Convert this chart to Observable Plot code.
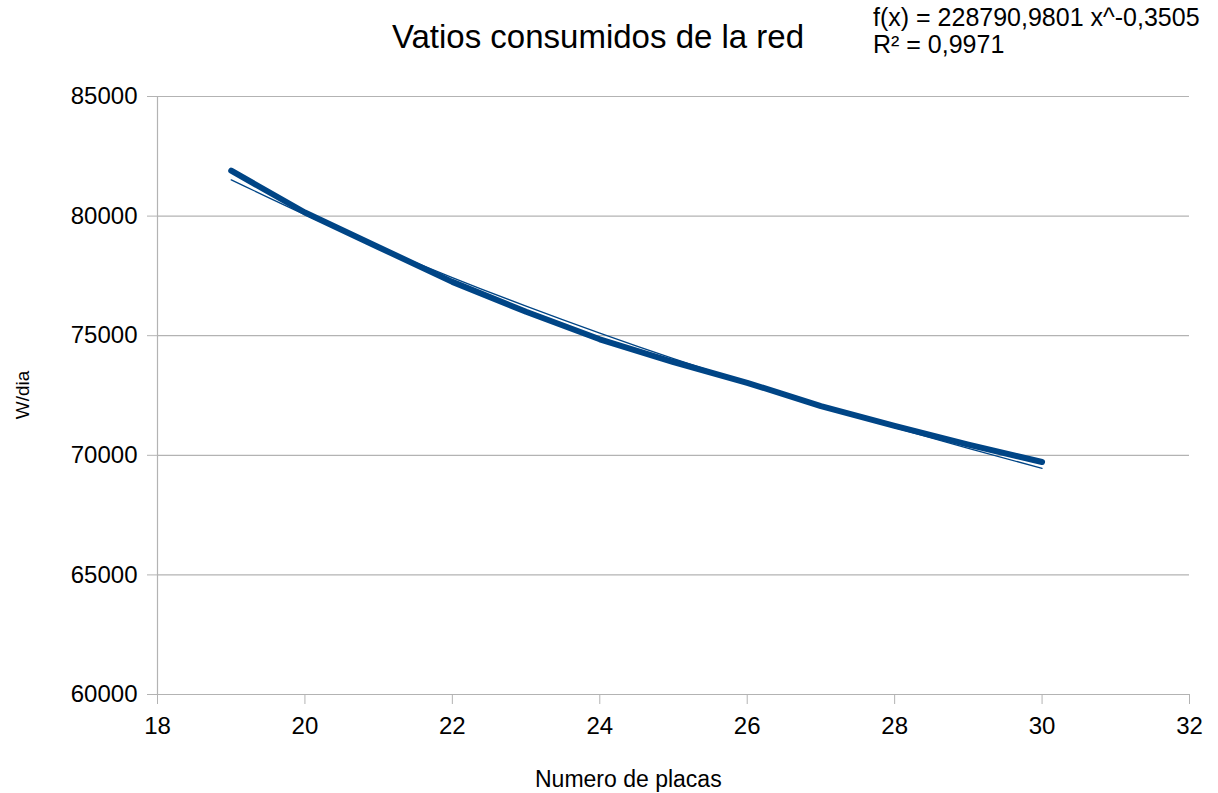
<!DOCTYPE html>
<html>
<head>
<meta charset="utf-8">
<script src="https://cdn.jsdelivr.net/npm/d3@7"></script>
<script src="https://cdn.jsdelivr.net/npm/@observablehq/plot@0.6"></script>
<style>
  html, body { margin: 0; padding: 0; background: #fff; }
  #wrap { position: relative; width: 1218px; height: 793px; font-family: "Liberation Sans", Arial, sans-serif; color: #000; }
  #wrap svg { position: absolute; left: 0; top: 0; }
  .lbl { position: absolute; white-space: nowrap; line-height: 1; }
</style>
</head>
<body>
<div id="wrap">
  <div class="lbl" id="title" style="left:598px; top:20px; transform:translateX(-50%); font-size:33px;">Vatios consumidos de la red</div>
  <div class="lbl" id="eq1" style="left:873px; top:5px; font-size:25px;">f(x) = 228790,9801 x^-0,3505</div>
  <div class="lbl" id="eq2" style="left:873px; top:32px; font-size:25px;">R² = 0,9971</div>
  <div class="lbl" id="ylab" style="left:22px; top:395px; transform:translate(-50%,-50%) rotate(-90deg); font-size:19px;">W/dia</div>
  <div class="lbl" id="xlab" style="left:535px; top:768px; font-size:23px;">Numero de placas</div>
</div>
<script>
const placas = [19, 20, 21, 22, 23, 24, 25, 26, 27, 28, 29, 30];
const vatios = [81900, 80150, 78700, 77250, 76000, 74850, 73900, 73030, 72060, 71230, 70450, 69720];
const tendencia = [81517, 80063, 78704, 77432, 76236, 75108, 74039, 73030, 72069, 71156, 70287, 69456];
const xTicks = [18, 20, 22, 24, 26, 28, 30, 32];
const yTicks = [60000, 65000, 70000, 75000, 80000, 85000];

const data = placas.map((x, i) => ({x, y: vatios[i]}));
const trend = placas.map((x, i) => ({x, y: tendencia[i]}));
const grid = "#b3b3b3";
const blue = "#004586";

const chart = Plot.plot({
  width: 1218,
  height: 793,
  marginLeft: 157,
  marginRight: 29,
  marginTop: 96,
  marginBottom: 99,
  style: {fontFamily: "'Liberation Sans', Arial, sans-serif", fontSize: "24px", background: "white", color: "black"},
  x: {domain: [18, 32]},
  y: {domain: [60000, 85000]},
  marks: [
    Plot.ruleY(yTicks, {stroke: grid, strokeWidth: 1.2}),
    Plot.ruleX([18], {stroke: grid, strokeWidth: 1.2}),
    Plot.axisX({ticks: xTicks, tickSize: 10, tickPadding: 12, stroke: grid, fill: "black", fontSize: 24, label: null, tickFormat: d => String(d)}),
    Plot.axisY({ticks: yTicks, tickSize: 10, tickPadding: 10, stroke: grid, fill: "black", fontSize: 24, label: null, tickFormat: d => String(d)}),
    Plot.line(trend, {x: "x", y: "y", stroke: blue, strokeWidth: 1.3, curve: "natural"}),
    Plot.line(data, {x: "x", y: "y", stroke: blue, strokeWidth: 6, curve: "linear"})
  ]
});
document.getElementById("wrap").prepend(chart);
</script>
</body>
</html>
